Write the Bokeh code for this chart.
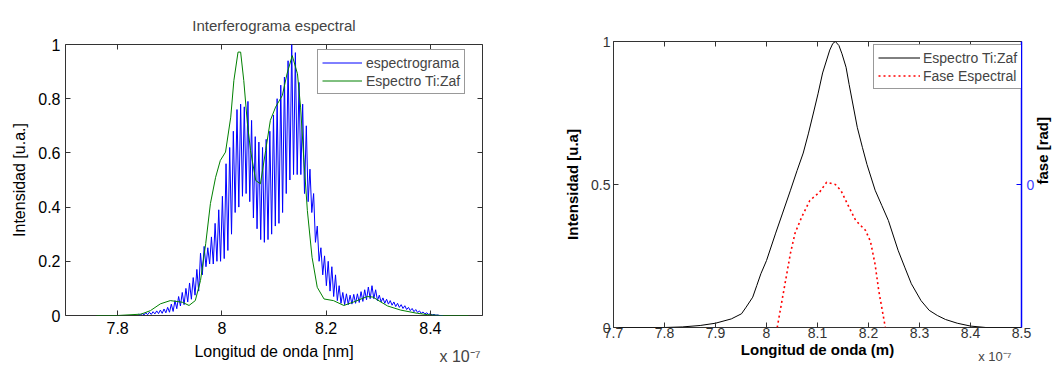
import numpy as np
from bokeh.plotting import figure
from bokeh.layouts import row, column
from bokeh.models import (Range1d, LinearAxis, FixedTicker, CustomJSTickFormatter, Title)
from bokeh.embed import file_html
from bokeh.resources import INLINE

# ---------------- data (wavelength in units of 1e-7 m) ----------------
# Left panel: Ti:Sapphire spectrum (green)
tizaf_wl = [7.759, 7.800, 7.845, 7.863, 7.882, 7.901, 7.924, 7.937, 7.949, 7.959,
            7.969, 7.978, 7.988, 7.997, 8.007, 8.017, 8.023, 8.031, 8.036, 8.042,
            8.049, 8.055, 8.065, 8.074, 8.084, 8.093, 8.103, 8.116, 8.125, 8.135,
            8.145, 8.151, 8.157, 8.164, 8.173, 8.183, 8.196, 8.214, 8.234, 8.253,
            8.279, 8.290, 8.298, 8.318, 8.343, 8.375, 8.395, 8.420, 8.473]
tizaf_int = [0.000, 0.000, 0.005, 0.018, 0.043, 0.055, 0.049, 0.037, 0.055, 0.129,
             0.265, 0.413, 0.510, 0.572, 0.603, 0.732, 0.867, 0.972, 0.972, 0.867,
             0.708, 0.609, 0.498, 0.486, 0.609, 0.720, 0.769, 0.812, 0.892, 0.959,
             0.892, 0.769, 0.584, 0.387, 0.215, 0.104, 0.061, 0.055, 0.037, 0.050,
             0.070, 0.068, 0.058, 0.035, 0.020, 0.008, 0.003, 0.000, 0.000]

# Left panel: spectrogram fringes (blue) - first fringe position, fringe period,
# and the read maxima / minima of every fringe
fringe_start = 7.840
fringe_step = 0.007
fringe_peak = [0.005, 0.008, 0.010, 0.012, 0.014, 0.017, 0.020, 0.024, 0.030, 0.042,
               0.055, 0.070, 0.085, 0.100, 0.120, 0.140, 0.170, 0.230, 0.255, 0.250,
               0.290, 0.340, 0.390, 0.440, 0.560, 0.620, 0.680, 0.760, 0.780, 0.770,
               0.790, 0.720, 0.660, 0.640, 0.620, 0.650, 0.680, 0.740, 0.800, 0.850,
               0.880, 0.940, 1.000, 0.970, 0.860, 0.780, 0.700, 0.540, 0.450, 0.330,
               0.250, 0.220, 0.200, 0.180, 0.150, 0.110, 0.085, 0.080, 0.075, 0.078,
               0.080, 0.088, 0.095, 0.105, 0.110, 0.095, 0.075, 0.065, 0.060, 0.055,
               0.050, 0.045, 0.040, 0.036, 0.030, 0.026, 0.022, 0.017, 0.013, 0.010,
               0.007, 0.004, 0.002, 0.000]
fringe_trough = [0.000, 0.002, 0.003, 0.004, 0.006, 0.007, 0.008, 0.010, 0.012, 0.015,
                 0.025, 0.035, 0.040, 0.050, 0.060, 0.075, 0.090, 0.150, 0.180, 0.190,
                 0.190, 0.200, 0.200, 0.210, 0.240, 0.300, 0.380, 0.400, 0.440, 0.450,
                 0.420, 0.360, 0.320, 0.280, 0.270, 0.280, 0.300, 0.330, 0.340, 0.380,
                 0.450, 0.500, 0.520, 0.520, 0.520, 0.450, 0.420, 0.380, 0.270, 0.200,
                 0.150, 0.110, 0.090, 0.070, 0.055, 0.045, 0.040, 0.040, 0.042, 0.045,
                 0.048, 0.052, 0.058, 0.062, 0.062, 0.055, 0.050, 0.045, 0.042, 0.038,
                 0.033, 0.030, 0.026, 0.022, 0.018, 0.014, 0.011, 0.008, 0.006, 0.004,
                 0.002, 0.001, 0.000, 0.000]

# Right panel: smooth spectrum (black) and spectral phase (red, rad)
spec_wl = [7.700, 7.800, 7.835, 7.870, 7.900, 7.931, 7.951, 7.960, 7.973, 7.981,
           7.989, 8.000, 8.018, 8.031, 8.047, 8.060, 8.072, 8.082, 8.092, 8.101,
           8.110, 8.124, 8.130, 8.135, 8.142, 8.148, 8.156, 8.162, 8.178, 8.188,
           8.197, 8.213, 8.226, 8.239, 8.258, 8.271, 8.284, 8.303, 8.319, 8.335,
           8.351, 8.374, 8.400, 8.430, 8.500]
spec_int = [0.000, 0.000, 0.002, 0.007, 0.015, 0.030, 0.048, 0.071, 0.106, 0.147,
            0.188, 0.234, 0.330, 0.397, 0.480, 0.549, 0.610, 0.677, 0.750, 0.817,
            0.890, 0.970, 0.993, 1.000, 0.986, 0.957, 0.910, 0.850, 0.700, 0.630,
            0.570, 0.480, 0.427, 0.374, 0.270, 0.211, 0.153, 0.094, 0.060, 0.042,
            0.028, 0.015, 0.005, 0.000, 0.000]
phase_wl = [8.021, 8.034, 8.047, 8.056, 8.069, 8.085, 8.104, 8.118, 8.135, 8.146,
            8.162, 8.175, 8.194, 8.204, 8.213, 8.220, 8.233]
phase_rad = [-1.000, -0.740, -0.480, -0.340, -0.228, -0.112, -0.054, 0.016, 0.000, -0.042,
             -0.160, -0.252, -0.320, -0.400, -0.560, -0.740, -1.000]

left_xticks = [7.8, 8.0, 8.2, 8.4]
left_yticks = [0, 0.2, 0.4, 0.6, 0.8, 1.0]
right_xticks = [7.7, 7.8, 7.9, 8.0, 8.1, 8.2, 8.3, 8.4, 8.5]
right_yticks = [0, 0.5, 1.0]
phase_ticks = [0]

# ---------------- helpers ----------------
FONT = "Liberation Sans"
fmt = CustomJSTickFormatter(code="return Number(tick.toFixed(2)).toString();")

blue_x, blue_y = [], []
for i, (pk, tr) in enumerate(zip(fringe_peak, fringe_trough)):
    blue_x += [fringe_start + i * fringe_step, fringe_start + (i + 0.5) * fringe_step]
    blue_y += [pk, tr]


def style_axis(ax, size, color="black"):
    ax.formatter = fmt
    ax.major_label_text_font = FONT
    ax.major_label_text_font_size = size
    ax.major_label_text_color = color
    ax.major_tick_in = 5
    ax.major_tick_out = 0
    ax.minor_tick_line_color = None
    ax.axis_line_color = None
    ax.major_tick_line_color = "#333333"
    ax.axis_label_text_font = FONT
    ax.axis_label_text_color = "black"


def add_dummy(p, side, ticks):
    ax = LinearAxis(ticker=FixedTicker(ticks=ticks))
    ax.major_label_text_font_size = "0px"
    ax.major_label_standoff = 0
    ax.major_tick_in = 5
    ax.major_tick_out = 0
    ax.minor_tick_line_color = None
    ax.axis_line_color = None
    ax.major_tick_line_color = "#333333"
    p.add_layout(ax, side)


def exp_title(p, size, standoff, offset, valign):
    t = Title(text="x 10⁻⁷", align="right", text_font=FONT, text_font_size=size,
              text_font_style="normal", offset=offset, vertical_align=valign)
    try:
        t.standoff = standoff
    except Exception:
        t.standoff = 0
    p.add_layout(t, "below")


# ---------------- left figure ----------------
p1 = figure(width=539, height=364, output_backend="svg", toolbar_location=None,
            x_range=Range1d(7.7, 8.5), y_range=Range1d(0, 1),
            min_border_left=65, min_border_right=57, min_border_top=44, min_border_bottom=49)
p1.grid.visible = False
p1.outline_line_color = "#333333"
p1.outline_line_width = 1
p1.title.text = "Interferograma espectral"
p1.title.text_font = FONT
p1.title.text_font_size = "15px"
p1.title.text_font_style = "normal"
p1.title.align = "center"
p1.title.standoff = 22

p1.xaxis.ticker = FixedTicker(ticks=left_xticks)
p1.yaxis.ticker = FixedTicker(ticks=left_yticks)
for ax in p1.xaxis + p1.yaxis:
    style_axis(ax, "16px")
p1.xaxis.major_label_standoff = 6
p1.yaxis.major_label_standoff = 5
p1.xaxis.axis_label = "Longitud de onda [nm]"
p1.xaxis.axis_label_text_font_size = "16px"
p1.xaxis.axis_label_text_font_style = "normal"
p1.xaxis.axis_label_standoff = 6
p1.yaxis.axis_label = "Intensidad [u.a.]"
p1.yaxis.axis_label_text_font_size = "16px"
p1.yaxis.axis_label_text_font_style = "normal"
p1.yaxis.axis_label_standoff = 7
add_dummy(p1, "above", left_xticks)
add_dummy(p1, "right", left_yticks)
exp_title(p1, "16px", -30, 2, "top")

p1.line(blue_x, blue_y, color="#0000ff", line_width=1, legend_label="espectrograma")
p1.line(tizaf_wl, tizaf_int, color="#008000", line_width=1, legend_label="Espectro Ti:Zaf")

lg = p1.legend[0]
lg.location = (252, 221)
lg.label_text_font = FONT
lg.label_text_font_size = "14px"
lg.label_height = 17
lg.glyph_height = 17
lg.glyph_width = 40
lg.spacing = 1
lg.padding = 4
lg.margin = 0
lg.label_standoff = 4
lg.border_line_color = "#333333"
lg.border_line_width = 1.5

# ---------------- right figure ----------------
p2 = figure(width=523, height=364, output_backend="svg", toolbar_location=None,
            x_range=Range1d(7.7, 8.5), y_range=Range1d(0, 1),
            min_border_left=74, min_border_right=35, min_border_top=41, min_border_bottom=37)
p2.grid.visible = False
p2.outline_line_color = "#333333"
p2.outline_line_width = 1
p2.extra_y_ranges = {"phase": Range1d(-1, 1)}
p2.xaxis.ticker = FixedTicker(ticks=right_xticks)
p2.yaxis.ticker = FixedTicker(ticks=right_yticks)
for ax in p2.xaxis + p2.yaxis:
    style_axis(ax, "14px", "#333333")
p2.xaxis.major_label_standoff = 0
p2.yaxis.major_label_standoff = 3
p2.xaxis.axis_label = "Longitud de onda (m)"
p2.xaxis.axis_label_text_font_size = "15px"
p2.xaxis.axis_label_text_font_style = "bold"
p2.xaxis.axis_label_standoff = 0
p2.yaxis.axis_label = "Intensidad [u.a]"
p2.yaxis.axis_label_text_font_size = "15px"
p2.yaxis.axis_label_text_font_style = "bold"
p2.yaxis.axis_label_standoff = 7
add_dummy(p2, "above", right_xticks)

rax = LinearAxis(y_range_name="phase", ticker=FixedTicker(ticks=phase_ticks))
style_axis(rax, "14px", "#4040ff")
rax.axis_line_color = "#0000ff"
rax.axis_line_width = 1.5
rax.major_tick_line_color = "#0000ff"
rax.major_label_standoff = 5
rax.axis_label = "fase [rad]"
rax.axis_label_text_font_size = "15px"
rax.axis_label_text_font_style = "bold"
rax.axis_label_standoff = 5
if "axis_label_orientation" in rax.properties():
    rax.axis_label_orientation = np.pi / 2
p2.add_layout(rax, "right")
exp_title(p2, "13px", -24, 10, "top")

p2.line(spec_wl, spec_int, color="black", line_width=1, legend_label="Espectro Ti:Zaf")
p2.line(phase_wl, phase_rad, y_range_name="phase", color="#ff0000", line_width=1.6,
        line_dash="2 3", legend_label="Fase Espectral")

lg2 = p2.legend[0]
lg2.location = (260, 238)
lg2.label_text_font = FONT
lg2.label_text_font_size = "14px"
lg2.label_height = 17
lg2.glyph_height = 17
lg2.glyph_width = 42
lg2.spacing = 1
lg2.padding = 4
lg2.margin = 0
lg2.label_standoff = 3
lg2.border_line_color = "#333333"
lg2.border_line_width = 1.5

layout = row(column(p1), column(p2))
open("out.html", "w").write(file_html(layout, INLINE))
